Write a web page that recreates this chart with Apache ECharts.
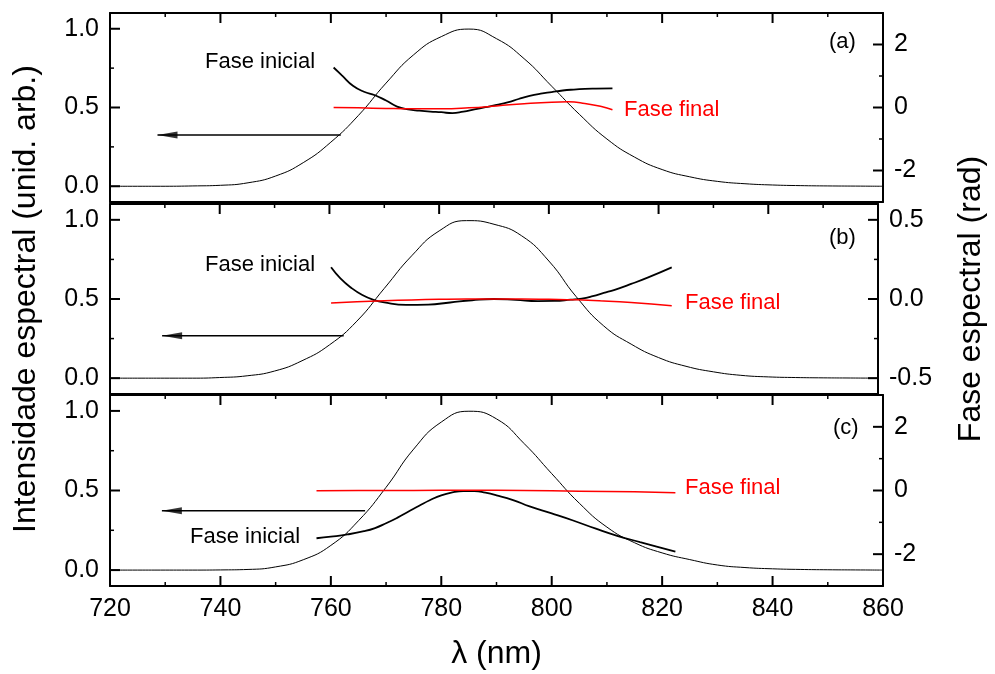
<!DOCTYPE html>
<html>
<head>
<meta charset="utf-8">
<script src="https://cdn.jsdelivr.net/npm/echarts@6/dist/echarts.min.js"></script>
<style>html,body{margin:0;padding:0;background:#fff;}#chart{width:995px;height:674px;}</style>
</head>
<body>
<div id="chart"></div>
<script>
// ---- data ----
const wl = [720,725,730,735,740,745,750,755,760,765,770,775,780,785,790,795,800,805,810,815,820,825,830,835,840,845,850,855,860];
const intensityA = [0,0,0,0.002,0.006,0.022,0.065,0.15,0.28,0.45,0.655,0.835,0.95,0.998,0.937,0.81,0.635,0.457,0.30,0.185,0.106,0.06,0.031,0.016,0.008,0.004,0.002,0.001,0];
const intensityB = [0,0,0,0,0.004,0.015,0.045,0.11,0.21,0.36,0.567,0.773,0.93,0.995,0.972,0.9,0.74,0.514,0.33,0.215,0.13,0.075,0.04,0.018,0.008,0.004,0.002,0.001,0];
const intensityC = [0,0,0,0,0.001,0.004,0.02,0.065,0.155,0.31,0.52,0.76,0.93,0.998,0.95,0.795,0.606,0.42,0.27,0.172,0.108,0.066,0.032,0.016,0.008,0.004,0.002,0.001,0];

const phaseAInitX = [760.5,762,764,766,768,770,772,774,776,778,780,782,784,786,788,790,792,794,796,798,800,802,804,806,808,811];
const phaseAInit  = [1.27,1.02,0.69,0.50,0.39,0.22,0.03,-0.06,-0.1,-0.13,-0.15,-0.18,-0.13,-0.06,0.01,0.08,0.16,0.27,0.37,0.44,0.49,0.54,0.57,0.59,0.6,0.61];
const phaseAFinX  = [760.5,765,770,775,780,785,790,795,800,803,806,809,811];
const phaseAFin   = [0.0,-0.01,-0.03,-0.04,-0.04,-0.01,0.05,0.12,0.17,0.18,0.13,0.03,-0.07];

const phaseBInitX = [760.3,762,764,766,768,770,774,778,782,786,790,794,798,801,804,806,808,810,812,815,818,822.4];
const phaseBInit  = [0.2,0.13,0.07,0.025,-0.005,-0.022,-0.037,-0.035,-0.022,-0.008,0.0,-0.006,-0.013,-0.012,-0.004,0.003,0.018,0.038,0.058,0.095,0.135,0.2];
const phaseBFinX  = [760.3,765,770,775,780,785,790,795,800,805,810,815,822.4];
const phaseBFin   = [-0.025,-0.018,-0.011,-0.006,-0.002,0.0,0.0,0.0,-0.002,-0.005,-0.012,-0.022,-0.042];

const phaseCInitX = [757.4,760,763,766,768,770,772,774,776,778,780,782,784,786,788,790,793,796,800,804,808,812,816,819,822.4];
const phaseCInit  = [-1.5,-1.45,-1.38,-1.28,-1.18,-1.03,-0.86,-0.67,-0.48,-0.3,-0.15,-0.06,-0.02,-0.02,-0.07,-0.15,-0.3,-0.5,-0.72,-0.95,-1.2,-1.43,-1.62,-1.76,-1.92];
const phaseCFinX  = [757.4,765,775,785,795,805,815,822.4];
const phaseCFin   = [-0.01,0.0,0.0,0.01,0.0,-0.02,-0.04,-0.07];

const arrowA = [[761.8,0.325],[728.6,0.325]];
const arrowB = [[762.6,0.268],[729.5,0.268]];
const arrowC = [[766.2,0.373],[729.4,0.373]];

const xTicks = [720,740,760,780,800,820,840,860];
const xMinor = [730,750,770,790,810,830,850];
const leftTicks = [0, 0.5, 1.0];
const leftMinor = [0.25, 0.75];
const rightTicksAC = [-2, 0, 2];
const rightMinorAC = [-1, 1];
const rightTicksB = [-0.5, 0, 0.5];
const rightMinorB = [-0.25, 0.25];

// ---- chart ----
const FONT = '"Liberation Sans", Arial, Helvetica, sans-serif';
const zip = (xs, ys) => xs.map((x, i) => [x, ys[i]]);
const MAJOR = 10, MINOR = 4;
const TOP = 0, BOTTOM = 1, LEFT = 2, RIGHT = 3;

const panels = [
  {int: intensityA, ix: phaseAInitX, iy: phaseAInit, fx: phaseAFinX, fy: phaseAFin, arrow: arrowA,
   rmin: -3, rmax: 3, rt: rightTicksAC, rm: rightMinorAC, rfmt: v => String(v)},
  {int: intensityB, ix: phaseBInitX, iy: phaseBInit, fx: phaseBFinX, fy: phaseBFin, arrow: arrowB,
   rmin: -0.6, rmax: 0.6, rt: rightTicksB, rm: rightMinorB, rfmt: v => v.toFixed(1)},
  {int: intensityC, ix: phaseCInitX, iy: phaseCInit, fx: phaseCFinX, fy: phaseCFin, arrow: arrowC,
   rmin: -3, rmax: 3, rt: rightTicksAC, rm: rightMinorAC, rfmt: v => String(v)}
];

const grid = [
  {left: 110, width: 773, top: 13, height: 189},
  {left: 110, width: 773, top: 204, height: 190},
  {left: 110, width: 773, top: 395, height: 191}
];

const axLine = () => ({show: true, onZero: false, lineStyle: {color: '#000', width: 2}});
const nameStyle = () => ({color: '#000', fontSize: 32, fontFamily: FONT});
const labelStyle = () => ({color: '#000', fontSize: 25, fontFamily: FONT, margin: 11});

// tick marks drawn through the axes' own scales (api.coord)
function tickRender(params, api) {
  const cs = params.coordSys;
  const v = api.value(0), len = api.value(1), side = api.value(2);
  let x1, y1, x2, y2;
  if (side === TOP || side === BOTTOM) {
    const px = api.coord([v, 0])[0];
    const py = side === TOP ? cs.y : cs.y + cs.height;
    x1 = x2 = px; y1 = py; y2 = side === TOP ? py + len : py - len;
  } else {
    const py = api.coord([720, v])[1];
    const px = side === LEFT ? cs.x : cs.x + cs.width;
    y1 = y2 = py; x1 = px; x2 = side === LEFT ? px + len : px - len;
  }
  return {type: 'line', shape: {x1, y1, x2, y2}, style: {stroke: '#000', lineWidth: len > 5 ? 2 : 1.5}};
}

const xAxis = [];
const yAxis = [];
const series = [];

panels.forEach((p, g) => {
  const last = g === 2;
  xAxis.push({
    type: 'value', gridIndex: g, position: 'bottom', min: 720, max: 860, interval: 20,
    axisLine: axLine(), axisTick: {show: false},
    axisLabel: last ? Object.assign({show: true, customValues: xTicks}, labelStyle()) : {show: false},
    splitLine: {show: false},
    name: last ? 'λ (nm)' : '', nameLocation: 'middle', nameGap: 52, nameTextStyle: nameStyle()
  });
  xAxis.push({
    type: 'value', gridIndex: g, position: 'top', min: 720, max: 860, interval: 20,
    axisLine: axLine(), axisTick: {show: false}, axisLabel: {show: false}, splitLine: {show: false}
  });
  yAxis.push({
    type: 'value', gridIndex: g, position: 'left', min: -0.1, max: 1.1,
    axisLine: axLine(), axisTick: {show: false},
    axisLabel: Object.assign({show: true, customValues: leftTicks, formatter: v => v.toFixed(1)}, labelStyle()),
    splitLine: {show: false},
    name: g === 1 ? 'Intensidade espectral (unid. arb.)' : '', nameLocation: 'middle', nameRotate: 90, nameGap: 68,
    nameTextStyle: nameStyle()
  });
  yAxis.push({
    type: 'value', gridIndex: g, position: 'right', min: p.rmin, max: p.rmax,
    axisLine: axLine(), axisTick: {show: false},
    axisLabel: Object.assign({show: true, customValues: p.rt, formatter: p.rfmt}, labelStyle()),
    splitLine: {show: false},
    name: g === 1 ? 'Fase espectral (rad)' : '', nameLocation: 'middle', nameRotate: 90, nameGap: 77,
    nameTextStyle: nameStyle()
  });

  const xi = 2 * g, yl = 2 * g, yr = 2 * g + 1;
  series.push({
    type: 'line', xAxisIndex: xi, yAxisIndex: yl, data: zip(wl, p.int), smooth: 0.5,
    symbol: 'none', lineStyle: {color: '#000', width: 1}, z: 3
  });
  series.push({
    type: 'line', xAxisIndex: xi, yAxisIndex: yr, data: zip(p.ix, p.iy), smooth: 0.5,
    symbol: 'none', lineStyle: {color: '#000', width: 1.8}, z: 4
  });
  series.push({
    type: 'line', xAxisIndex: xi, yAxisIndex: yr, data: zip(p.fx, p.fy), smooth: 0.5,
    symbol: 'none', lineStyle: {color: '#ff0000', width: 1.5}, z: 5
  });
  series.push({
    type: 'line', xAxisIndex: xi, yAxisIndex: yl, data: p.arrow,
    symbol: 'none', lineStyle: {color: '#000', width: 1.5}, z: 4
  });
  series.push({
    type: 'scatter', xAxisIndex: xi, yAxisIndex: yl, data: [p.arrow[1]],
    symbol: 'triangle', symbolSize: [7, 20], symbolRotate: 90, symbolOffset: [10, 0],
    itemStyle: {color: '#000'}, z: 5
  });

  // tick definitions from the tick arrays
  const leftTickData = []
    .concat(xTicks.map(v => [v, MAJOR, TOP]))
    .concat(xMinor.map(v => [v, MINOR, TOP]))
    .concat(last ? xTicks.map(v => [v, MAJOR, BOTTOM]) : [])
    .concat(last ? xMinor.map(v => [v, MINOR, BOTTOM]) : [])
    .concat(leftTicks.map(v => [v, MAJOR, LEFT]))
    .concat(leftMinor.map(v => [v, MINOR, LEFT]));
  const rightTickData = []
    .concat(p.rt.map(v => [v, MAJOR, RIGHT]))
    .concat(p.rm.map(v => [v, MINOR, RIGHT]));
  series.push({
    type: 'custom', xAxisIndex: xi, yAxisIndex: yl, data: leftTickData, renderItem: tickRender,
    clip: false, silent: true, z: 6
  });
  series.push({
    type: 'custom', xAxisIndex: xi, yAxisIndex: yr, data: rightTickData, renderItem: tickRender,
    clip: false, silent: true, z: 6
  });
});

const txt = (text, x, y, color) => ({
  type: 'text', x: x, y: y, silent: true,
  style: {text: text, fill: color || '#000', fontSize: 22, fontFamily: FONT, verticalAlign: 'middle', align: 'left'}
});

const graphic = [
  txt('Fase inicial', 205, 62), txt('Fase final', 624, 110, '#ff0000'), txt('(a)', 829, 42),
  txt('Fase inicial', 205, 265), txt('Fase final', 685, 303, '#ff0000'), txt('(b)', 829, 238),
  txt('Fase inicial', 190, 537), txt('Fase final', 685, 488, '#ff0000'), txt('(c)', 833, 428)
];

const chart = echarts.init(document.getElementById('chart'));
chart.setOption({
  animation: false,
  backgroundColor: '#fff',
  grid: grid,
  xAxis: xAxis,
  yAxis: yAxis,
  series: series,
  graphic: graphic
});
</script>
</body>
</html>
